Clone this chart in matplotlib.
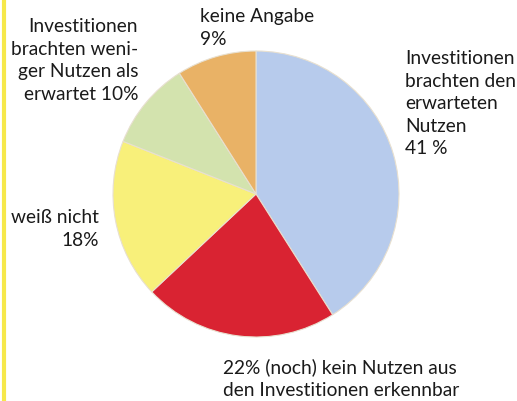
import matplotlib.pyplot as plt

# data
labels = ['Investitionen brachten den erwarteten Nutzen',
          '(noch) kein Nutzen aus den Investitionen erkennbar',
          'weiß nicht',
          'Investitionen brachten weniger Nutzen als erwartet',
          'keine Angabe']
values = [41, 22, 18, 10, 9]
colors = ['#b7cbec', '#d92332', '#f8f07a', '#d3e3ae', '#e9b266']

W, H = 517, 401
plt.rcParams['font.family'] = ['Lato', 'DejaVu Sans']

fig = plt.figure(figsize=(W / 100, H / 100), dpi=100, facecolor='white')
ax = fig.add_axes([0, 0, 1, 1])

# pie drawn in pixel coords (y flipped -> clockwise order needs counterclock=True)
ax.pie(values, colors=colors, startangle=-90, counterclock=True,
       center=(256, 194), radius=143, frame=True,
       wedgeprops=dict(edgecolor='#e8e0d0', linewidth=0.8))
ax.set_xlim(0, W)
ax.set_ylim(H, 0)
ax.set_aspect('equal')
ax.axis('off')

# yellow rule on the left edge
ax.plot([4, 4], [0, H], color='#f6e84a', linewidth=3)

kw = dict(fontsize=13.8, color='#1a1a1a', linespacing=1.4)
ax.text(138, 18, 'Investitionen\nbrachten weni-\nger Nutzen als\nerwartet 10%',
        ha='right', va='top', multialignment='right', **kw)
ax.text(200, 8, 'keine Angabe\n9%', ha='left', va='top', **kw)
ax.text(405, 50, 'Investitionen\nbrachten den\nerwarteten\nNutzen\n41 %',
        ha='left', va='top', **kw)
ax.text(99, 209, 'weiß nicht\n18%', ha='right', va='top', multialignment='right', **kw)
ax.text(223, 358, '22% (noch) kein Nutzen aus\nden Investitionen erkennbar',
        ha='left', va='top', **kw)

fig.savefig('out.png', dpi=100, facecolor='white')
